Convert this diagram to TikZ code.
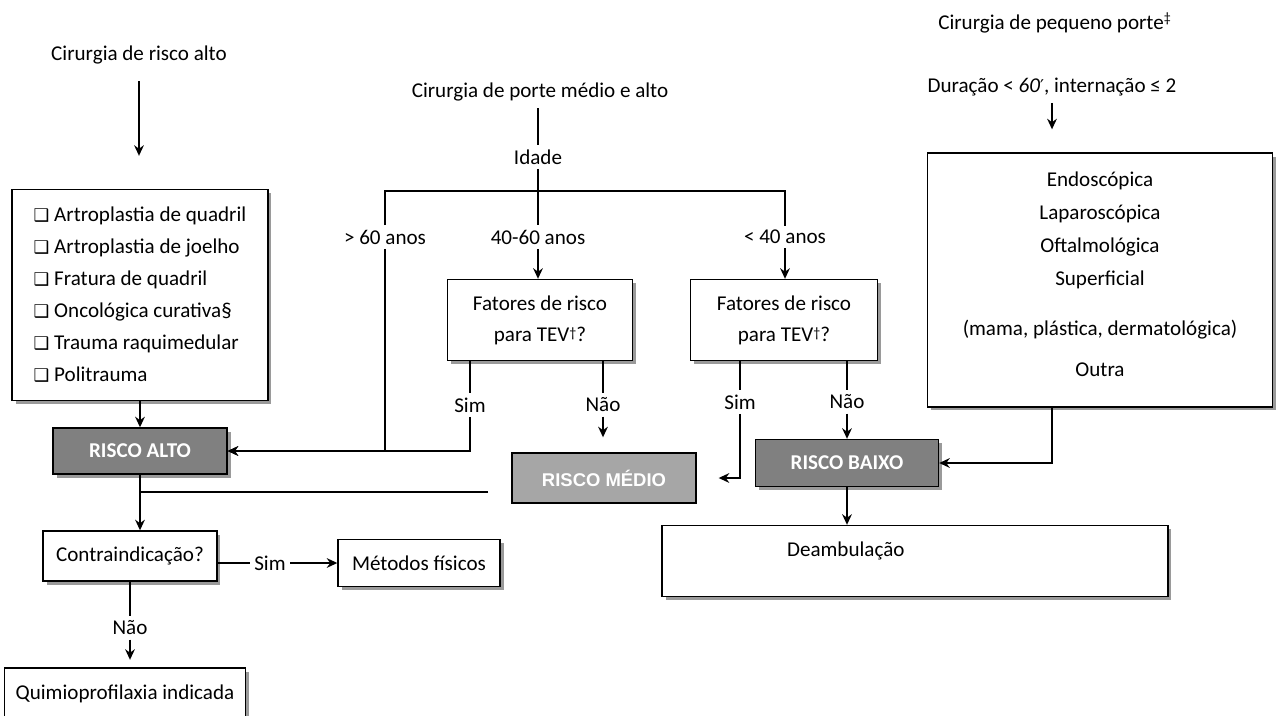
\documentclass[tikz,border=0pt]{standalone}
\usepackage{fontspec}
\setmainfont{Carlito}
\newfontfamily\arialfont{Liberation Sans}
\newfontfamily\dingfont{DejaVu Sans}
\usetikzlibrary{arrows.meta,shadows}
\definecolor{riskdark}{HTML}{808080}
\definecolor{risklight}{HTML}{A6A6A6}
\definecolor{shadowgray}{HTML}{9A9A9A}
\newcommand{\chk}{{\dingfont\fontsize{10}{10}\selectfont ❑}\ }

\begin{document}
\begin{tikzpicture}[>={Stealth[length=6pt,width=5.5pt]},x=0.02cm,y=-0.02cm,
  font=\fontsize{12}{14}\selectfont,line width=1.2pt,
  box/.style={draw,line width=0.8pt,fill=white,align=center,
    drop shadow={shadow xshift=2pt,shadow yshift=-2pt,fill=shadowgray,opacity=1}},
  risk/.style={box,fill=riskdark,text=white,font=\fontsize{12}{14}\selectfont\bfseries},
  medium/.style={draw,line width=0.8pt,fill=risklight,text=white,
    font={\arialfont\fontsize{10.5}{12}\selectfont\bfseries}},
  lbl/.style={inner sep=2pt}]
  \useasboundingbox (0,0) rectangle (1277,716);
  \clip (0,0) rectangle (1277,716);

  % high risk column
  \node (altoTxt) at (139,55) {Cirurgia de risco alto};
  \node[box,align=left,minimum width=5.12cm,minimum height=4.22cm,
    font=\fontsize{12}{18.2}\selectfont] (lista) at (140,295)
    {\chk Artroplastia de quadril\\\chk Artroplastia de joelho\\\chk Fratura de quadril\\
     \chk Oncológica curativa§\\\chk Trauma raquimedular\\\chk Politrauma};
  \node[risk,minimum width=3.48cm,minimum height=0.92cm] (alto) at (140,451) {RISCO ALTO};
  \node[box,minimum width=3.48cm,minimum height=1.0cm] (contra) at (130,556) {Contraindicação?};
  \node[lbl] (sim3) at (270,563) {Sim};
  \node[box,minimum width=3.24cm,minimum height=0.94cm] (metodos) at (419,563) {Métodos físicos};
  \node[lbl] (nao3) at (130,628) {Não};
  \node[box,minimum width=4.82cm,minimum height=1.44cm] (quimio) at (125,704) {Quimioprofilaxia indicada\\\mbox{}};

  % age branches
  \node (porte) at (540,92) {Cirurgia de porte médio e alto};
  \node[lbl] (idade) at (538,157) {Idade};
  \coordinate (split) at (538,191);
  \node[lbl] (g60) at (385,237) {> 60 anos};
  \node[lbl] (m4060) at (538,237) {40-60 anos};
  \node[lbl] (l40) at (785,237) {< 40 anos};
  \node[box,minimum width=3.7cm,minimum height=1.62cm,font=\fontsize{12}{17.6}\selectfont] (fat1) at (540,320)
    {Fatores de risco\\para TEV{\fontsize{8}{8}\selectfont\raisebox{0.5ex}{†}}?};
  \node[box,minimum width=3.74cm,minimum height=1.62cm,font=\fontsize{12}{17.6}\selectfont] (fat2) at (784,320)
    {Fatores de risco\\para TEV{\fontsize{8}{8}\selectfont\raisebox{0.5ex}{†}}?};
  \node[lbl] (sim1) at (470,405) {Sim};
  \node[lbl] (nao1) at (603,405) {Não};
  \node[lbl] (sim2) at (740,402) {Sim};
  \node[lbl] (nao2) at (847,402) {Não};
  \node[medium,minimum width=3.68cm,minimum height=1.0cm] (medio) at (604,478) {RISCO MÉDIO};
  \coordinate (mjoin) at (488,492);

  % small surgery
  \node (peqTxt) at (1055,23) {Cirurgia de pequeno porte\textsuperscript{‡}};
  \node (dur) at (1052,87) {Duração < \textit{60}{\dingfont\fontsize{10}{10}\selectfont ′}, internação ≤ 2};
  \node[box,minimum width=6.9cm,minimum height=5.08cm,font=\fontsize{12}{18.8}\selectfont] (peq) at (1100,280)
    {Endoscópica\\Laparoscópica\\Oftalmológica\\Superficial\\[0.35cm](mama, plástica, dermatológica)\\[0.15cm]Outra\\[-12pt]\mbox{}};
  \node[risk,minimum width=3.66cm,minimum height=0.94cm] (baixo) at (847,463) {RISCO BAIXO};
  \node[box,text width=10.12cm,inner xsep=0pt,align=left,minimum height=1.42cm] (deamb) at (915,561)
    {\hspace*{2.5cm}Deambulação\\\mbox{}};

  % connectors
  \draw[->,shorten <=0.2cm,shorten >=0.66cm] (altoTxt) -- (altoTxt |- lista.north);
  \draw[->] (lista) -- (alto);
  \draw (mjoin) -- (mjoin -| alto);
  \draw[->] (alto) -- (alto |- contra.north);
  \draw (contra.east |- sim3) -- (sim3);
  \draw[->] (sim3) -- (metodos);
  \draw (contra) -- (nao3);
  \draw[->,shorten >=0.15cm] (nao3) -- (nao3 |- quimio.north);

  \draw (idade |- porte.south) -- (idade);
  \draw (idade) -- (m4060);
  \draw (g60) |- (split) -| (l40);
  \draw[->] (m4060) -- (m4060 |- fat1.north);
  \draw[->] (l40) -- (l40 |- fat2.north);
  \draw[->] (g60) |- (alto);
  \draw (sim1 |- fat1.south) -- (sim1);
  \draw[->] (sim1) |- (alto);
  \draw (nao1 |- fat1.south) -- (nao1);
  \draw[->,shorten >=0.3cm] (nao1) -- (nao1 |- medio.north);
  \draw (sim2 |- fat2.south) -- (sim2);
  \draw[->,shorten >=0.44cm] (sim2) |- (medio);
  \draw (nao2 |- fat2.south) -- (nao2);
  \draw[->] (nao2) -- (nao2 |- baixo.north);

  \draw[->,shorten >=0.46cm] (dur) -- (dur |- peq.north);
  \draw[->] ([xshift=-0.96cm]peq.south) |- (baixo);
  \draw[->] (baixo) -- (baixo |- deamb.north);
\end{tikzpicture}
\end{document}
